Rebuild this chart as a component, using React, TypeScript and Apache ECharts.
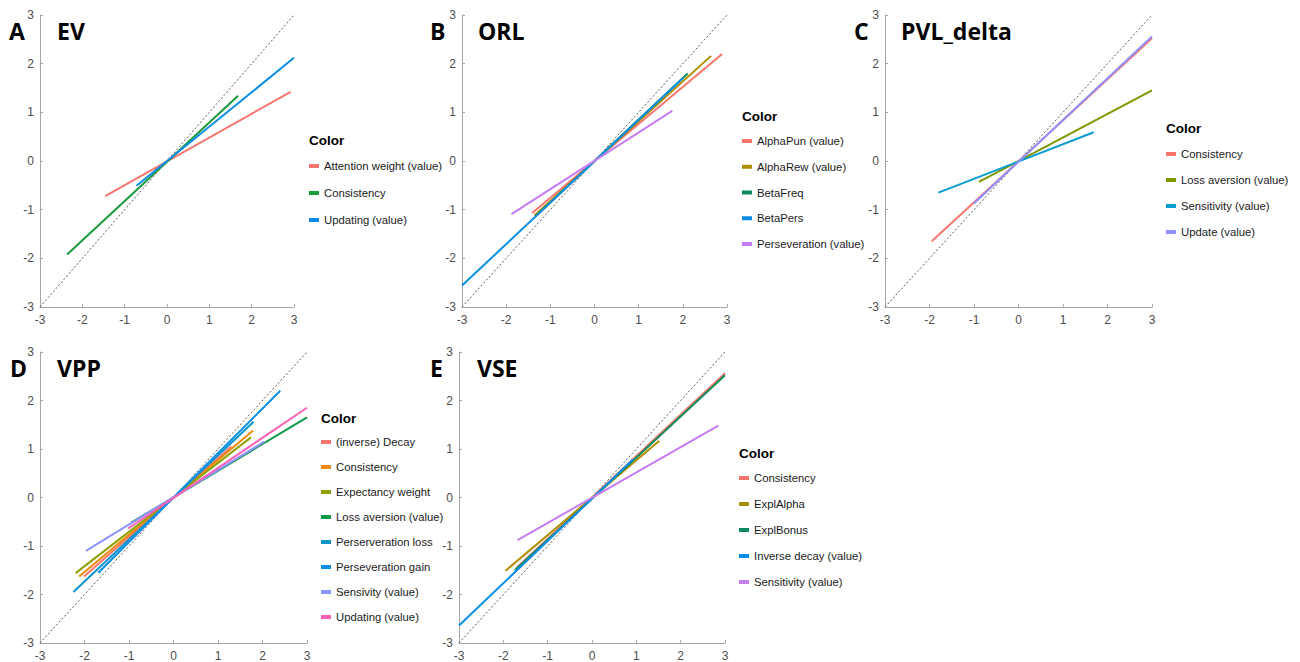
import React, { useEffect, useRef } from "react";
import * as echarts from "echarts";

// ---- Panel A: EV ----
const evNames = ["Attention weight (value)", "Consistency", "Updating (value)"];
const evStart = [[-1.46, -0.72], [-2.36, -1.92], [-0.72, -0.51]];
const evEnd = [[2.92, 1.42], [1.68, 1.34], [3.0, 2.12]];
const evColors = ["#F8766D", "#1A9A3C", "#0C8CE9"];

// ---- Panel B: ORL ----
const orlNames = ["AlphaPun (value)", "AlphaRew (value)", "BetaFreq", "BetaPers", "Perseveration (value)"];
const orlStart = [[-1.41, -1.07], [-1.36, -1.12], [-1.34, -1.14], [-3.0, -2.56], [-1.88, -1.09]];
const orlEnd = [[2.89, 2.2], [2.64, 2.16], [2.11, 1.8], [2.0, 1.7], [1.76, 1.03]];
const orlColors = ["#F8766D", "#B08D00", "#0B8C5A", "#0A8FE6", "#C77CF2"];

// ---- Panel C: PVL_delta ----
const pvlNames = ["Consistency", "Loss aversion (value)", "Sensitivity (value)", "Update (value)"];
const pvlStart = [[-1.95, -1.65], [-0.89, -0.43], [-1.8, -0.65], [-1.01, -0.88]];
const pvlEnd = [[3.0, 2.52], [3.0, 1.45], [1.69, 0.59], [3.0, 2.56]];
const pvlColors = ["#F8766D", "#7C9A00", "#0A9CCF", "#8F8FFF"];

// ---- Panel D: VPP ----
const vppNames = [
  "(inverse) Decay",
  "Consistency",
  "Expectancy weight",
  "Loss aversion (value)",
  "Perserveration loss",
  "Perseveration gain",
  "Sensivity (value)",
  "Updating (value)",
];
const vppStart = [[-2.01, -1.63], [-2.12, -1.63], [-2.2, -1.56], [-0.95, -0.52], [-2.25, -1.95], [-1.69, -1.55], [-1.97, -1.1], [-1.02, -0.64]];
const vppEnd = [[1.3, 1.05], [1.79, 1.38], [1.74, 1.24], [3.0, 1.65], [1.8, 1.56], [2.4, 2.2], [2.04, 1.15], [3.0, 1.85]];
const vppColors = ["#F8766D", "#F08A0A", "#8FA000", "#0E9A48", "#0A95C8", "#0A8FE8", "#8C94FF", "#FF5FB8"];

// ---- Panel E: VSE ----
const vseNames = ["Consistency", "ExplAlpha", "ExplBonus", "Inverse decay (value)", "Sensitivity (value)"];
const vseStart = [[-1.7, -1.45], [-1.95, -1.51], [-1.74, -1.5], [-3.0, -2.64], [-1.68, -0.88]];
const vseEnd = [[3.0, 2.56], [1.52, 1.17], [3.0, 2.52], [0.93, 0.79], [2.85, 1.48]];
const vseColors = ["#F8766D", "#B08D00", "#0B8C5A", "#0A8FE8", "#C77CF2"];

// Axis range and the identity reference line
const axisMin = -3;
const axisMax = 3;
const axisStep = 1;
const identityLine = [[-3, -3], [3, 3]];

const panels = [
  { letter: "A", title: "EV", names: evNames, start: evStart, end: evEnd, colors: evColors,
    grid: { left: 40, top: 15, width: 254, height: 292 },
    legend: { left: 309, top: 159, gap: 13 }, colorY: 140, letterX: 9, titleX: 57, labelY: 31 },
  { letter: "B", title: "ORL", names: orlNames, start: orlStart, end: orlEnd, colors: orlColors,
    grid: { left: 462, top: 15, width: 265, height: 292 },
    legend: { left: 742, top: 134, gap: 11.75 }, colorY: 116, letterX: 430, titleX: 478, labelY: 31 },
  { letter: "C", title: "PVL_delta", names: pvlNames, start: pvlStart, end: pvlEnd, colors: pvlColors,
    grid: { left: 885, top: 15, width: 267, height: 292 },
    legend: { left: 1166, top: 147, gap: 12 }, colorY: 128, letterX: 854, titleX: 901, labelY: 31 },
  { letter: "D", title: "VPP", names: vppNames, start: vppStart, end: vppEnd, colors: vppColors,
    grid: { left: 40, top: 352, width: 267, height: 294 },
    legend: { left: 321, top: 435, gap: 11 }, colorY: 418, letterX: 10, titleX: 57, labelY: 368 },
  { letter: "E", title: "VSE", names: vseNames, start: vseStart, end: vseEnd, colors: vseColors,
    grid: { left: 459, top: 352, width: 266, height: 294 },
    legend: { left: 739, top: 471, gap: 12 }, colorY: 453, letterX: 430, titleX: 477, labelY: 368 },
];

const axisColor = "#A6A6A6";
const labelColor = "#4D4D4D";
const sansFont = "'Liberation Sans', Arial, sans-serif";
const headFont = "'Open Sans', 'Noto Sans', sans-serif";

function buildOption() {
  const grid: any[] = [];
  const xAxis: any[] = [];
  const yAxis: any[] = [];
  const series: any[] = [];
  const legend: any[] = [];
  const graphic: any[] = [];

  panels.forEach((p, i) => {
    grid.push({ ...p.grid, containLabel: false });
    const common = {
      type: "value",
      gridIndex: i,
      min: axisMin,
      max: axisMax,
      interval: axisStep,
      splitLine: { show: false },
      axisLine: { show: true, onZero: false, lineStyle: { color: axisColor, width: 1 } },
      axisTick: { show: true, inside: true, length: 3, lineStyle: { color: axisColor } },
      axisLabel: { color: labelColor, fontSize: 12, fontFamily: sansFont, margin: 6 },
    };
    xAxis.push({ ...common, axisLabel: { ...common.axisLabel, margin: 7 } });
    yAxis.push({ ...common });

    series.push({
      type: "line",
      name: `${i}|identity`,
      xAxisIndex: i,
      yAxisIndex: i,
      data: identityLine,
      symbol: "none",
      silent: true,
      lineStyle: { color: "#5A5A5A", width: 1, type: [2, 2] },
      z: 1,
    });

    p.names.forEach((n, j) => {
      series.push({
        type: "line",
        name: `${i}|${n}`,
        xAxisIndex: i,
        yAxisIndex: i,
        data: [p.start[j], p.end[j]],
        symbol: "none",
        lineStyle: { color: p.colors[j], width: 2 },
        itemStyle: { color: p.colors[j] },
        z: 2 + j,
      });
    });

    legend.push({
      orient: "vertical",
      left: p.legend.left,
      top: p.legend.top,
      padding: 0,
      itemGap: p.legend.gap,
      itemWidth: 10,
      itemHeight: 4,
      icon: "rect",
      selectedMode: false,
      data: p.names.map((n) => `${i}|${n}`),
      formatter: (name: string) => name.split("|")[1],
      textStyle: { fontSize: 11.3, color: "#1A1A1A", fontFamily: sansFont, lineHeight: 14 },
    });

    graphic.push(
      {
        type: "text",
        left: p.letterX,
        y: p.labelY,
        style: { text: p.letter, font: `700 23px ${headFont}`, fill: "#000", verticalAlign: "middle" },
      },
      {
        type: "text",
        left: p.titleX,
        y: p.labelY,
        style: { text: p.title, font: `700 23px ${headFont}`, fill: "#000", verticalAlign: "middle" },
      },
      {
        type: "text",
        left: p.legend.left,
        y: p.colorY,
        style: { text: "Color", font: `700 13.5px ${sansFont}`, fill: "#000", verticalAlign: "middle" },
      }
    );
  });

  return {
    animation: false,
    backgroundColor: "#FFFFFF",
    grid,
    xAxis,
    yAxis,
    legend,
    series,
    graphic,
  };
}

export default function App() {
  const ref = useRef<HTMLDivElement>(null);
  useEffect(() => {
    if (!ref.current) return;
    const chart = echarts.init(ref.current, null, { renderer: "svg" });
    chart.setOption(buildOption());
    return () => chart.dispose();
  }, []);
  return (
    <div
      ref={ref}
      style={{ position: "absolute", left: 0, top: 0, width: 1300, height: 662 }}
    />
  );
}
